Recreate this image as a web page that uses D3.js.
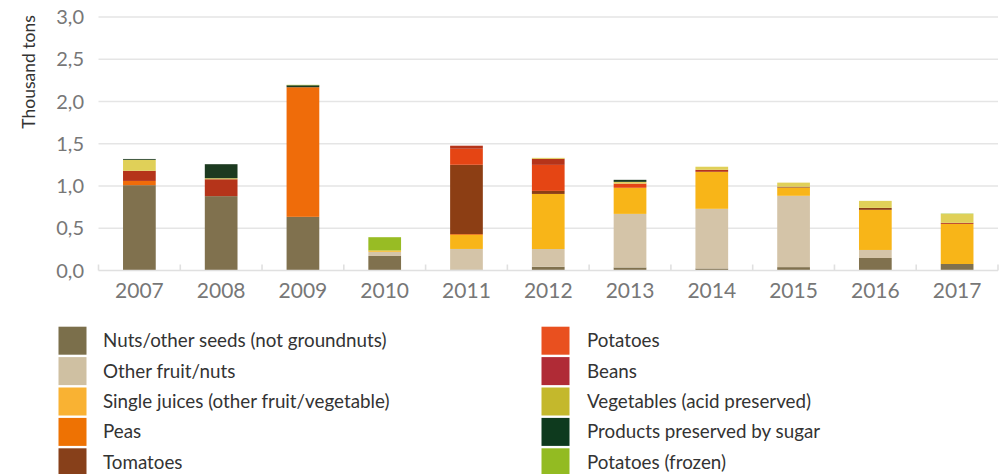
<!DOCTYPE html>
<html>
<head>
<meta charset="utf-8">
<script src="https://cdnjs.cloudflare.com/ajax/libs/d3/7.8.5/d3.min.js"></script>
<style>
    body { margin: 0; background: #fff; }
    text { font-family: Lato, 'Open Sans', sans-serif; }
</style>
</head>
<body>
<script>
// ======================= DATA =======================
const years = ['2007', '2008', '2009', '2010', '2011', '2012', '2013', '2014', '2015', '2016', '2017']
const yTicks = [0, 0.5, 1, 1.5, 2, 2.5, 3]

const seriesNames = [
    'Nuts/other seeds (not groundnuts)',
    'Other fruit/nuts',
    'Single juices (other fruit/vegetable)',
    'Peas',
    'Tomatoes',
    'Potatoes',
    'Beans',
    'Vegetables (acid preserved)',
    'Products preserved by sugar',
    'Potatoes (frozen)'
]

const nuts         = [1.01, 0.88, 0.635, 0.172, 0.01, 0.044, 0.036, 0.024, 0.04, 0.148, 0.077]
const otherFruit   = [0, 0, 0, 0.05, 0.245, 0.21, 0.634, 0.706, 0.844, 0.095, 0]
const singleJuices = [0, 0, 0, 0.015, 0.166, 0.652, 0.309, 0.438, 0.098, 0.475, 0.475]
const peas         = [0.05, 0, 1.534, 0, 0.01, 0, 0, 0, 0, 0, 0]
const tomatoes     = [0, 0, 0, 0, 0.82, 0.036, 0, 0, 0.01, 0.023, 0]
const potatoes     = [0, 0, 0, 0, 0.19, 0.308, 0.05, 0, 0, 0, 0]
const beans        = [0.12, 0.2, 0, 0, 0.036, 0.072, 0, 0.024, 0, 0, 0.012]
const vegAcid      = [0.13, 0.012, 0, 0, 0, 0.011, 0.02, 0.036, 0.048, 0.083, 0.104]
const sugar        = [0.01, 0.166, 0.023, 0, 0, 0, 0.024, 0, 0, 0, 0]
const frozen       = [0, 0, 0.005, 0.157, 0, 0, 0, 0, 0, 0, 0.005]

const seriesValues = [nuts, otherFruit, singleJuices, peas, tomatoes, potatoes, beans, vegAcid, sugar, frozen]

const barColors = ['#80714e', '#d4c4a8', '#f8b518', '#ef6c0a', '#8c3e14', '#e54514', '#b5341a', '#e0d058', '#1c3a20', '#98bc24']
const legendColors = ['#7b6f4b', '#cfc0a2', '#f9b233', '#ee7203', '#87401a', '#e9501f', '#b02b36', '#c4b82c', '#0e3a1e', '#93bb22']

// ======================= SETUP =======================
const W = 1003, H = 474
const plot = { left: 98.5, right: 998, top: 17, bottom: 270.5 }

const svg = d3.select('body').append('svg')
    .attr('width', W)
    .attr('height', H)

const keys = seriesNames.map((d, i) => 'k' + i)
const table = years.map((yr, j) => {
    const row = { year: yr }
    keys.forEach((k, i) => { row[k] = seriesValues[i][j] })
    return row
})
const stacked = d3.stack().keys(keys)(table)

const x = d3.scaleBand()
    .domain(years)
    .range([plot.left, plot.right])
    .paddingInner(0.6)
    .paddingOuter(0.3)

const y = d3.scaleLinear()
    .domain([0, 3])
    .range([plot.bottom, plot.top])

// grid
svg.append('g')
    .selectAll('line')
    .data(yTicks.filter(d => d > 0))
    .enter().append('line')
    .attr('x1', plot.left)
    .attr('x2', plot.right)
    .attr('y1', d => y(d))
    .attr('y2', d => y(d))
    .attr('stroke', '#e5e5e5')
    .attr('stroke-width', 1.6)

// y labels
svg.append('g')
    .selectAll('text')
    .data(yTicks)
    .enter().append('text')
    .attr('x', 84)
    .attr('y', d => y(d))
    .attr('dy', '0.36em')
    .attr('text-anchor', 'end')
    .attr('fill', '#777')
    .style('font-size', '20px')
    .text(d => d3.format('.1f')(d).replace('.', ','))

svg.append('text')
    .attr('transform', 'translate(35,72) rotate(-90)')
    .attr('text-anchor', 'middle')
    .attr('fill', '#333')
    .style('font-size', '17.5px')
    .text('Thousand tons')

// bars
svg.append('g')
    .selectAll('g')
    .data(stacked)
    .enter().append('g')
    .attr('fill', (d, i) => barColors[i])
    .selectAll('rect')
    .data(d => d)
    .enter().append('rect')
    .attr('x', d => x(d.data.year))
    .attr('width', x.bandwidth())
    .attr('y', d => y(d[1]))
    .attr('height', d => Math.max(0, y(d[0]) - y(d[1])))

// x axis line + separators
const axis = svg.append('g').attr('stroke', '#e0e0e0').attr('stroke-width', 1.6)
axis.append('line')
    .attr('x1', plot.left).attr('x2', plot.right)
    .attr('y1', plot.bottom).attr('y2', plot.bottom)
const seps = years.map(d => x(d) - x.step() * 0.3).concat([plot.right])
axis.selectAll('.sep')
    .data(seps)
    .enter().append('line')
    .attr('class', 'sep')
    .attr('x1', d => d).attr('x2', d => d)
    .attr('y1', plot.bottom - 6).attr('y2', plot.bottom)

// x labels
svg.append('g')
    .selectAll('text')
    .data(years)
    .enter().append('text')
    .attr('x', d => x(d) + x.bandwidth() / 2)
    .attr('y', 298)
    .attr('text-anchor', 'middle')
    .attr('fill', '#777')
    .style('font-size', '21px')
    .text(d => d)

// legend
const legend = svg.append('g')
const cols = [{ sx: 58.5, tx: 103 }, { sx: 541.5, tx: 587 }]
const items = legend.selectAll('g')
    .data(seriesNames)
    .enter().append('g')
    .attr('transform', (d, i) => {
        const c = cols[Math.floor(i / 5)]
        return 'translate(' + c.sx + ',' + (326.7 + (i % 5) * 30.4) + ')'
    })
items.append('rect')
    .attr('width', 28)
    .attr('height', 28)
    .attr('fill', (d, i) => legendColors[i])
items.append('text')
    .attr('x', (d, i) => cols[Math.floor(i / 5)].tx - cols[Math.floor(i / 5)].sx)
    .attr('y', 14)
    .attr('dy', '0.35em')
    .attr('fill', '#333')
    .style('font-size', '18.8px')
    .text(d => d)
</script>
</body>
</html>
